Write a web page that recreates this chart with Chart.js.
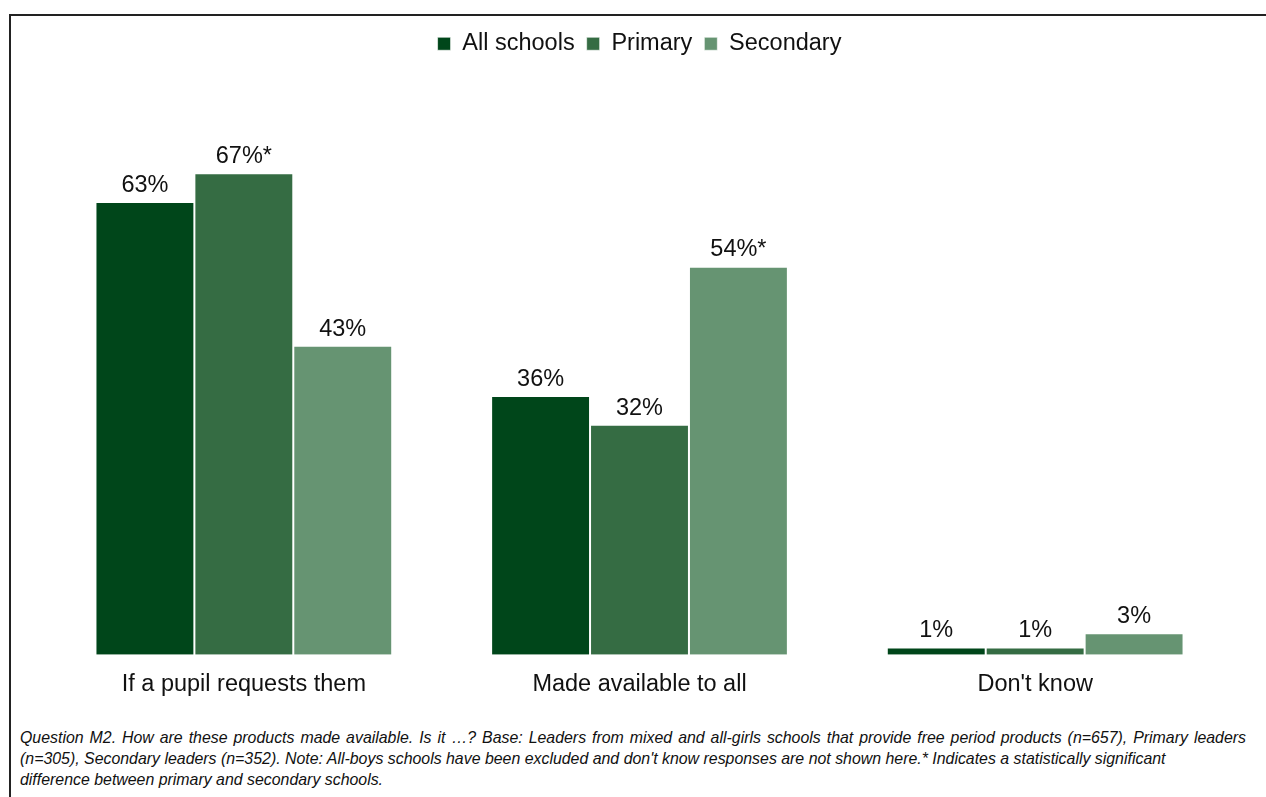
<!DOCTYPE html>
<html>
<head>
<meta charset="utf-8">
<script src="https://cdn.jsdelivr.net/npm/chart.js@4"></script>
<style>
  html, body { margin: 0; padding: 0; background: #fff; }
  body { width: 1266px; height: 797px; overflow: hidden; position: relative; font-family: "Liberation Sans", Arial, sans-serif; }
  #frame { position: absolute; left: 9px; top: 14px; width: 1270px; height: 800px; border: 2px solid #222; box-sizing: border-box; }
  #wrap { position: absolute; left: 0; top: 0; width: 1266px; height: 715px; }
  #note { position: absolute; left: 20px; top: 727px; width: 1226px; font-size: 15.9px; line-height: 21px; font-style: italic; color: #111; }
  #note div { white-space: nowrap; }
  #note .full { text-align: justify; text-align-last: justify; }
</style>
</head>
<body>
<div id="frame"></div>
<div id="wrap"><canvas id="myChart" width="1266" height="715"></canvas></div>
<div id="note">
  <div class="full">Question M2. How are these products made available. Is it …? Base: Leaders from mixed and all-girls schools that provide free period products (n=657), Primary leaders</div>
  <div>(n=305), Secondary leaders (n=352). Note: All-boys schools have been excluded and don't know responses are not shown here.* Indicates a statistically significant</div>
  <div>difference between primary and secondary schools.</div>
</div>
<script>
const categories = ['If a pupil requests them', 'Made available to all', "Don't know"];
const seriesNames = ['All schools', 'Primary', 'Secondary'];
const allSchools = [63, 36, 1];
const primary = [67, 32, 1];
const secondary = [43, 54, 3];
// * marks a significant primary/secondary difference
const allStars = [false, false, false];
const primaryStars = [true, false, false];
const secondaryStars = [false, true, false];
const colours = ['#00461a', '#356c43', '#669472'];

const fontFam = '"Liberation Sans", Arial, sans-serif';

const barLabels = {
    id: 'barLabels',
    afterDatasetsDraw(chart) {
        const ctx = chart.ctx;
        ctx.save();
        ctx.font = '23.5px ' + fontFam;
        ctx.fillStyle = '#111';
        ctx.textAlign = 'center';
        ctx.textBaseline = 'bottom';
        chart.data.datasets.forEach((ds, i) => {
            chart.getDatasetMeta(i).data.forEach((bar, j) => {
                let txt = ds.data[j] + '%' + (ds.stars[j] ? '*' : '');
                ctx.fillText(txt, bar.x, bar.y - 5);
            });
        });
        ctx.restore();
    }
};

function chart () {
    const ctx = document.getElementById('myChart').getContext('2d');
    const values = [allSchools, primary, secondary];
    const stars = [allStars, primaryStars, secondaryStars];
    new Chart(ctx, {
        type: 'bar',
        data: {
            labels: categories,
            datasets: seriesNames.map((name, i) => ({
                label: name,
                data: values[i],
                stars: stars[i],
                backgroundColor: colours[i],
                borderColor: 'rgba(255,255,255,0.6)',
                borderWidth: 1,
                categoryPercentage: 0.75,
                barPercentage: 1
            }))
        },
        options: {
            responsive: false,
            animation: false,
            layout: { padding: { left: 46, right: 33, top: 20, bottom: 8 } },
            plugins: {
                tooltip: { enabled: false },
                legend: {
                    labels: {
                        boxWidth: 13,
                        boxHeight: 13,
                        padding: 12,
                        color: '#111',
                        font: { size: 23.5, family: fontFam }
                    }
                }
            },
            scales: {
                x: {
                    grid: { display: false },
                    border: { display: false },
                    ticks: {
                        color: '#111',
                        padding: 8,
                        font: { size: 23.5, family: fontFam }
                    }
                },
                y: {
                    display: false,
                    beginAtZero: true,
                    max: 82
                }
            }
        },
        plugins: [barLabels]
    });
}

window.onload = chart;
</script>
</body>
</html>
